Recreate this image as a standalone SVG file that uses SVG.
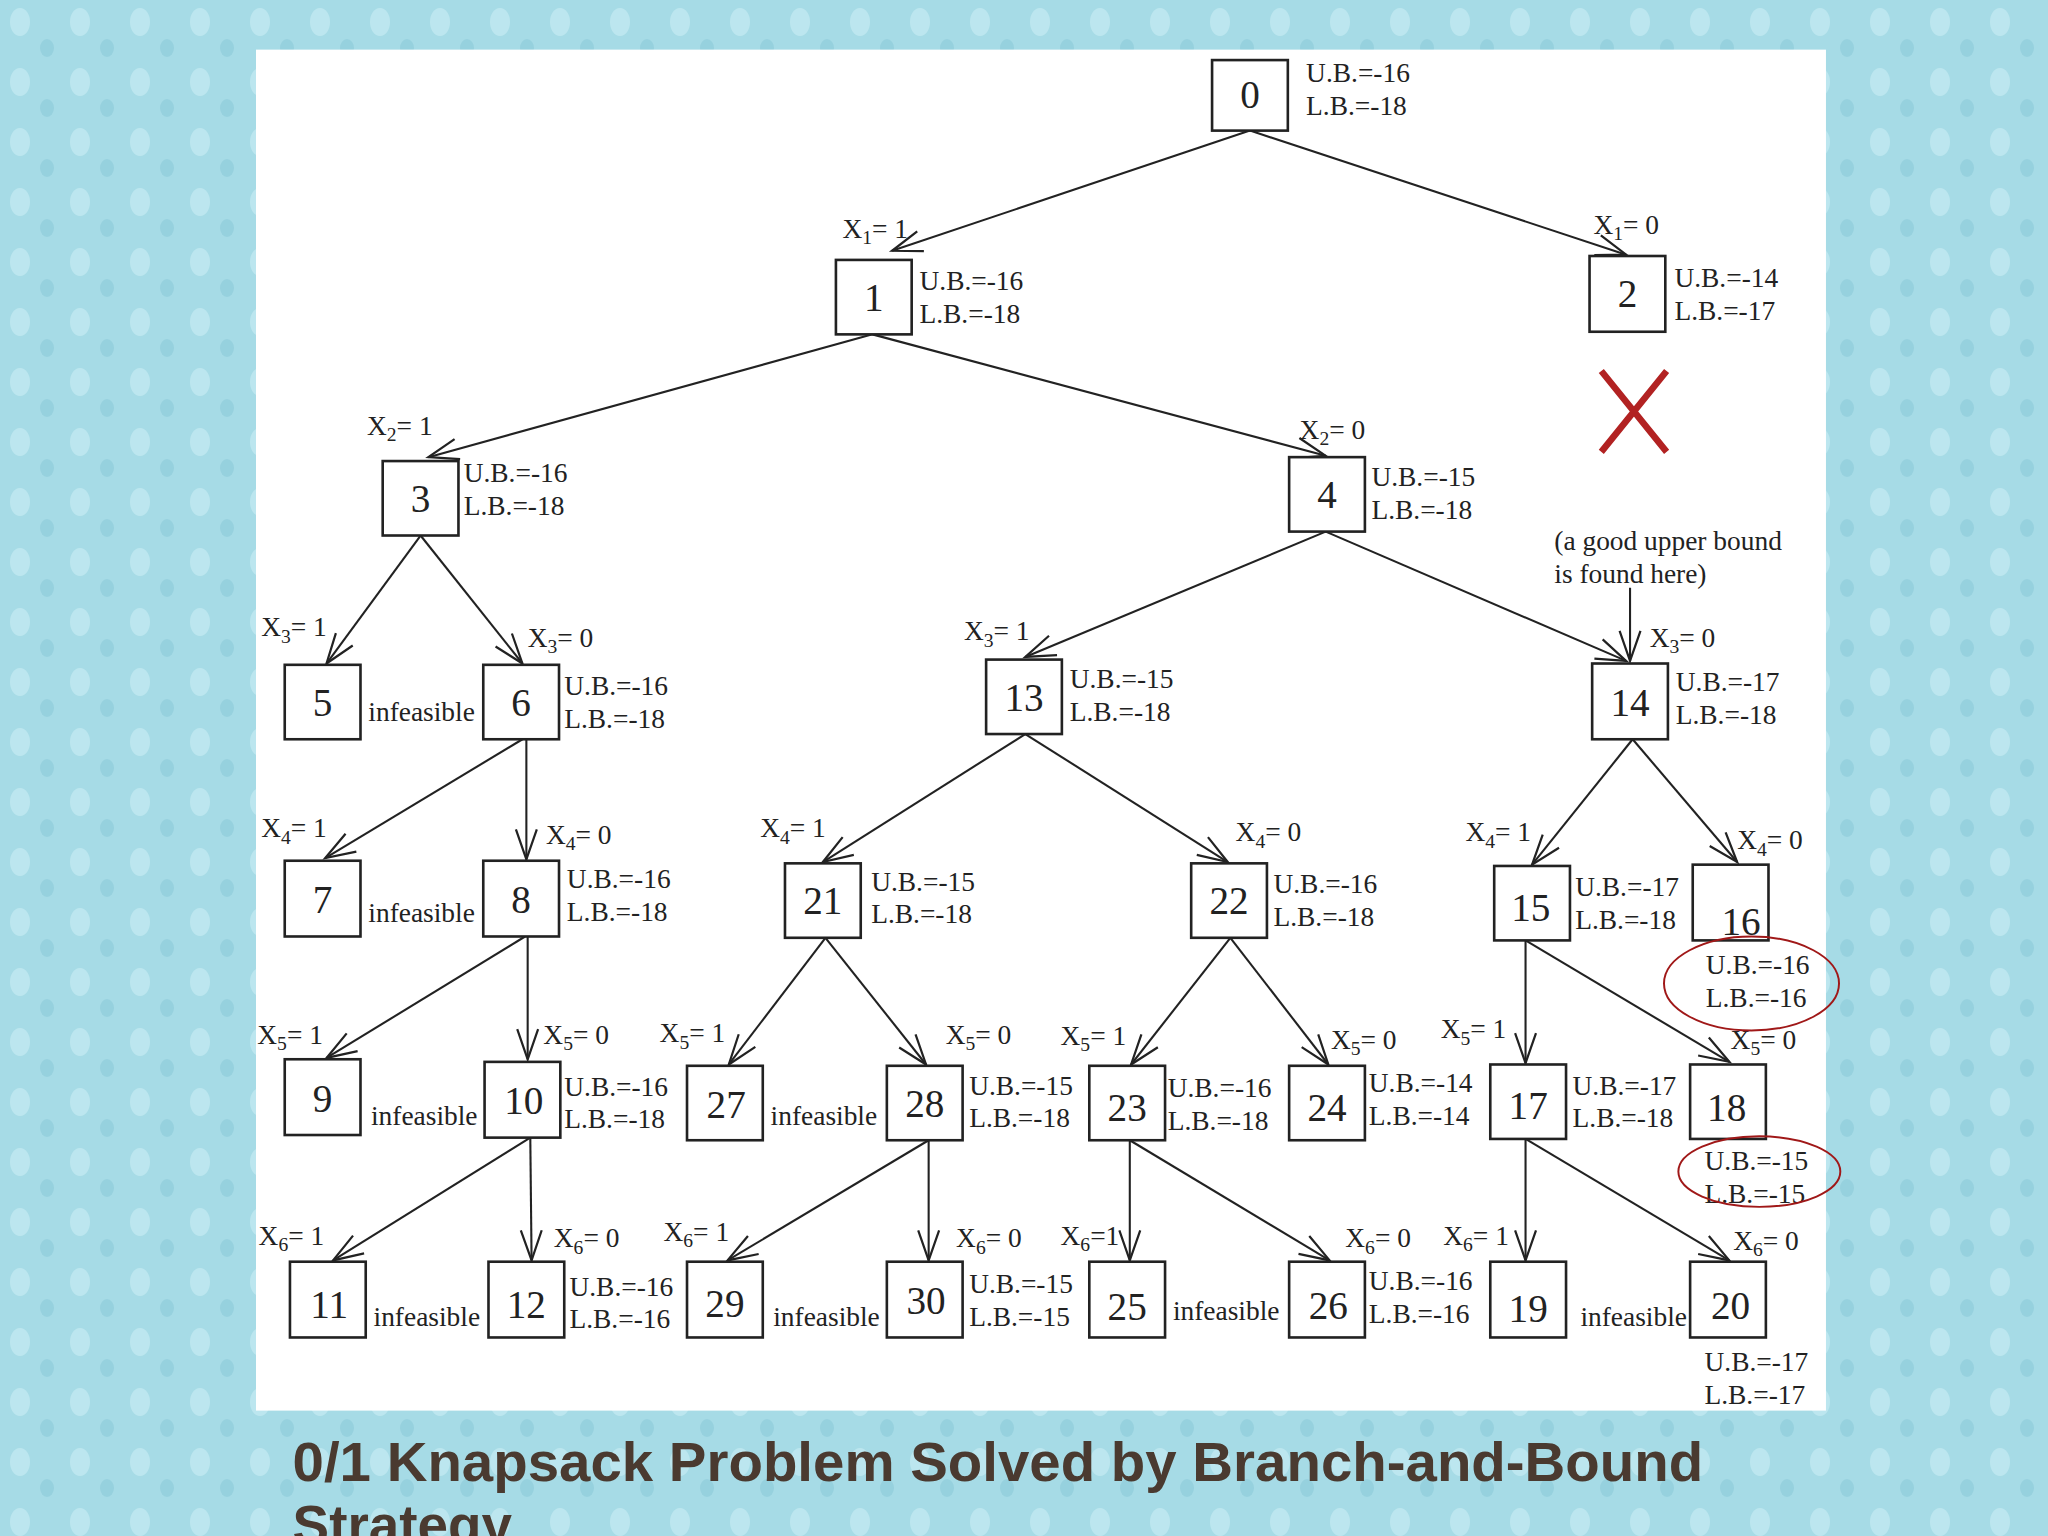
<svg xmlns="http://www.w3.org/2000/svg" width="2048" height="1536" viewBox="0 0 2048 1536">
<defs>
<style>
text{font-family:"Liberation Serif","DejaVu Serif",serif;fill:#222}
.b{fill:#fff;stroke:#222;stroke-width:2}
.n{font-size:30px;text-anchor:middle}
.l{font-size:21px}
.e{font-size:21px}
.c line{stroke:#222;stroke-width:1.6;marker-end:url(#a)}
.t{font-family:"Liberation Sans",Arial,sans-serif;font-weight:bold;font-size:42px;fill:#4a3a30}
</style>
<marker id="a" markerWidth="30" markerHeight="30" refX="25" refY="15" orient="auto" markerUnits="userSpaceOnUse"><path d="M2,7 L25,15 L2,23" fill="none" stroke="#222" stroke-width="1.7"/></marker>
<pattern id="bg" width="60" height="60" patternUnits="userSpaceOnUse"><rect width="60" height="60" fill="#a6dbe6"/><ellipse cx="20" cy="22" rx="10" ry="14" fill="#c6ecf3" opacity="0.7"/><ellipse cx="47" cy="48" rx="7" ry="9" fill="#8ccad8" opacity="0.6"/></pattern>
</defs>
<rect width="2048" height="1536" fill="url(#bg)"/>
<g transform="scale(1.30612)">
<rect x="196" y="38" width="1202" height="1042" fill="#fff"/>
<g id="connectors" class="c">
<line x1="957" y1="100" x2="683" y2="192"/><line x1="957" y1="100" x2="1245" y2="195"/>
<line x1="668" y1="256" x2="328" y2="350"/><line x1="668" y1="256" x2="1015" y2="349"/>
<line x1="322" y1="410" x2="250" y2="508"/><line x1="322" y1="410" x2="400" y2="508"/>
<line x1="1015" y1="407" x2="785" y2="503"/><line x1="1015" y1="407" x2="1245" y2="506"/>
<line x1="400" y1="566" x2="249" y2="657"/><line x1="403" y1="566" x2="403" y2="658"/>
<line x1="785" y1="562" x2="630" y2="660"/><line x1="785" y1="562" x2="940" y2="660"/>
<line x1="1250" y1="566" x2="1173" y2="662"/><line x1="1250" y1="566" x2="1330" y2="660"/>
<line x1="402" y1="717" x2="250" y2="810"/><line x1="404" y1="717" x2="404" y2="811"/>
<line x1="632" y1="718" x2="558" y2="815"/><line x1="632" y1="718" x2="709" y2="815"/>
<line x1="942" y1="718" x2="866" y2="815"/><line x1="942" y1="718" x2="1017" y2="815"/>
<line x1="1168" y1="720" x2="1168" y2="814"/><line x1="1168" y1="720" x2="1324" y2="813"/>
<line x1="406" y1="871" x2="255" y2="965"/><line x1="406" y1="871" x2="407" y2="965"/>
<line x1="711" y1="873" x2="557" y2="965"/><line x1="711" y1="873" x2="711" y2="965"/>
<line x1="865" y1="873" x2="865" y2="965"/><line x1="865" y1="873" x2="1018" y2="965"/>
<line x1="1168" y1="872" x2="1168" y2="965"/><line x1="1168" y1="872" x2="1324" y2="965"/>
<line x1="1248" y1="450" x2="1248" y2="506"/>
</g>
<g class="e">
<text x="645" y="182">X<tspan font-size="15" dy="5">1</tspan><tspan dy="-5">= 1</tspan></text>
<text x="1220" y="179">X<tspan font-size="15" dy="5">1</tspan><tspan dy="-5">= 0</tspan></text>
<text x="281" y="333">X<tspan font-size="15" dy="5">2</tspan><tspan dy="-5">= 1</tspan></text>
<text x="995" y="336">X<tspan font-size="15" dy="5">2</tspan><tspan dy="-5">= 0</tspan></text>
<text x="200" y="487">X<tspan font-size="15" dy="5">3</tspan><tspan dy="-5">= 1</tspan></text>
<text x="404" y="495">X<tspan font-size="15" dy="5">3</tspan><tspan dy="-5">= 0</tspan></text>
<text x="738" y="490">X<tspan font-size="15" dy="5">3</tspan><tspan dy="-5">= 1</tspan></text>
<text x="1263" y="495">X<tspan font-size="15" dy="5">3</tspan><tspan dy="-5">= 0</tspan></text>
<text x="200" y="641">X<tspan font-size="15" dy="5">4</tspan><tspan dy="-5">= 1</tspan></text>
<text x="418" y="646">X<tspan font-size="15" dy="5">4</tspan><tspan dy="-5">= 0</tspan></text>
<text x="582" y="641">X<tspan font-size="15" dy="5">4</tspan><tspan dy="-5">= 1</tspan></text>
<text x="946" y="644">X<tspan font-size="15" dy="5">4</tspan><tspan dy="-5">= 0</tspan></text>
<text x="1122" y="644">X<tspan font-size="15" dy="5">4</tspan><tspan dy="-5">= 1</tspan></text>
<text x="1330" y="650">X<tspan font-size="15" dy="5">4</tspan><tspan dy="-5">= 0</tspan></text>
<text x="197" y="799">X<tspan font-size="15" dy="5">5</tspan><tspan dy="-5">= 1</tspan></text>
<text x="416" y="799">X<tspan font-size="15" dy="5">5</tspan><tspan dy="-5">= 0</tspan></text>
<text x="505" y="798">X<tspan font-size="15" dy="5">5</tspan><tspan dy="-5">= 1</tspan></text>
<text x="724" y="799">X<tspan font-size="15" dy="5">5</tspan><tspan dy="-5">= 0</tspan></text>
<text x="812" y="800">X<tspan font-size="15" dy="5">5</tspan><tspan dy="-5">= 1</tspan></text>
<text x="1019" y="803">X<tspan font-size="15" dy="5">5</tspan><tspan dy="-5">= 0</tspan></text>
<text x="1103" y="795">X<tspan font-size="15" dy="5">5</tspan><tspan dy="-5">= 1</tspan></text>
<text x="1325" y="803">X<tspan font-size="15" dy="5">5</tspan><tspan dy="-5">= 0</tspan></text>
<text x="198" y="953">X<tspan font-size="15" dy="5">6</tspan><tspan dy="-5">= 1</tspan></text>
<text x="424" y="955">X<tspan font-size="15" dy="5">6</tspan><tspan dy="-5">= 0</tspan></text>
<text x="508" y="950">X<tspan font-size="15" dy="5">6</tspan><tspan dy="-5">= 1</tspan></text>
<text x="732" y="955">X<tspan font-size="15" dy="5">6</tspan><tspan dy="-5">= 0</tspan></text>
<text x="812" y="953">X<tspan font-size="15" dy="5">6</tspan><tspan dy="-5">=1</tspan></text>
<text x="1030" y="955">X<tspan font-size="15" dy="5">6</tspan><tspan dy="-5">= 0</tspan></text>
<text x="1105" y="953">X<tspan font-size="15" dy="5">6</tspan><tspan dy="-5">= 1</tspan></text>
<text x="1327" y="957">X<tspan font-size="15" dy="5">6</tspan><tspan dy="-5">= 0</tspan></text>
</g>
<g id="n0"><rect class="b" x="928" y="46" width="58" height="54"/><text class="n" x="957" y="83">0</text><text class="l" x="1000" y="63">U.B.=-16</text><text class="l" x="1000" y="88">L.B.=-18</text></g>
<g id="n1"><rect class="b" x="640" y="199" width="58" height="57"/><text class="n" x="669" y="238">1</text><text class="l" x="704" y="222">U.B.=-16</text><text class="l" x="704" y="247">L.B.=-18</text></g>
<g id="n2"><rect class="b" x="1217" y="196" width="58" height="58"/><text class="n" x="1246" y="235">2</text><text class="l" x="1282" y="220">U.B.=-14</text><text class="l" x="1282" y="245">L.B.=-17</text></g>
<g id="x"><path d="M1226,284 L1276,346 M1276,284 L1226,346" stroke="#b22222" stroke-width="5" fill="none"/></g>
<g id="n3"><rect class="b" x="293" y="353" width="58" height="57"/><text class="n" x="322" y="392">3</text><text class="l" x="355" y="369">U.B.=-16</text><text class="l" x="355" y="394">L.B.=-18</text></g>
<g id="n4"><rect class="b" x="987" y="350" width="58" height="57"/><text class="n" x="1016" y="389">4</text><text class="l" x="1050" y="372">U.B.=-15</text><text class="l" x="1050" y="397">L.B.=-18</text></g>
<g id="note"><text class="l" x="1190" y="421">(a good upper bound</text><text class="l" x="1190" y="446">is found here)</text></g>
<g id="n5"><rect class="b" x="218" y="509" width="58" height="57"/><text class="n" x="247" y="548">5</text><text class="l" x="282" y="552">infeasible</text></g>
<g id="n6"><rect class="b" x="370" y="509" width="58" height="57"/><text class="n" x="399" y="548">6</text><text class="l" x="432" y="532">U.B.=-16</text><text class="l" x="432" y="557">L.B.=-18</text></g>
<g id="n13"><rect class="b" x="755" y="505" width="58" height="57"/><text class="n" x="784" y="544">13</text><text class="l" x="819" y="527">U.B.=-15</text><text class="l" x="819" y="552">L.B.=-18</text></g>
<g id="n14"><rect class="b" x="1219" y="508" width="58" height="58"/><text class="n" x="1248" y="548">14</text><text class="l" x="1283" y="529">U.B.=-17</text><text class="l" x="1283" y="554">L.B.=-18</text></g>
<g id="n7"><rect class="b" x="218" y="659" width="58" height="58"/><text class="n" x="247" y="699">7</text><text class="l" x="282" y="706">infeasible</text></g>
<g id="n8"><rect class="b" x="370" y="659" width="58" height="58"/><text class="n" x="399" y="699">8</text><text class="l" x="434" y="680">U.B.=-16</text><text class="l" x="434" y="705">L.B.=-18</text></g>
<g id="n21"><rect class="b" x="601" y="661" width="58" height="57"/><text class="n" x="630" y="700">21</text><text class="l" x="667" y="682">U.B.=-15</text><text class="l" x="667" y="707">L.B.=-18</text></g>
<g id="n22"><rect class="b" x="912" y="661" width="58" height="57"/><text class="n" x="941" y="700">22</text><text class="l" x="975" y="684">U.B.=-16</text><text class="l" x="975" y="709">L.B.=-18</text></g>
<g id="n15"><rect class="b" x="1144" y="663" width="58" height="57"/><text class="n" x="1172" y="705">15</text><text class="l" x="1206" y="686">U.B.=-17</text><text class="l" x="1206" y="711">L.B.=-18</text></g>
<g id="n16"><rect class="b" x="1296" y="662" width="58" height="58"/><text class="n" x="1333" y="716">16</text><text class="l" x="1306" y="746">U.B.=-16</text><text class="l" x="1306" y="771">L.B.=-16</text><ellipse cx="1341" cy="753" rx="67" ry="36" fill="none" stroke="#a01818" stroke-width="1.5"/></g>
<g id="n9"><rect class="b" x="218" y="811" width="58" height="58"/><text class="n" x="247" y="851">9</text><text class="l" x="284" y="861">infeasible</text></g>
<g id="n10"><rect class="b" x="371" y="813" width="58" height="58"/><text class="n" x="401" y="853">10</text><text class="l" x="432" y="839">U.B.=-16</text><text class="l" x="432" y="864">L.B.=-18</text></g>
<g id="n27"><rect class="b" x="526" y="816" width="58" height="57"/><text class="n" x="556" y="856">27</text><text class="l" x="590" y="861">infeasible</text></g>
<g id="n28"><rect class="b" x="679" y="816" width="58" height="57"/><text class="n" x="708" y="855">28</text><text class="l" x="742" y="838">U.B.=-15</text><text class="l" x="742" y="863">L.B.=-18</text></g>
<g id="n23"><rect class="b" x="834" y="816" width="58" height="57"/><text class="n" x="863" y="858">23</text><text class="l" x="894" y="840">U.B.=-16</text><text class="l" x="894" y="865">L.B.=-18</text></g>
<g id="n24"><rect class="b" x="987" y="816" width="58" height="57"/><text class="n" x="1016" y="858">24</text><text class="l" x="1048" y="836">U.B.=-14</text><text class="l" x="1048" y="861">L.B.=-14</text></g>
<g id="n17"><rect class="b" x="1141" y="815" width="58" height="57"/><text class="n" x="1170" y="857">17</text><text class="l" x="1204" y="838">U.B.=-17</text><text class="l" x="1204" y="863">L.B.=-18</text></g>
<g id="n18"><rect class="b" x="1294" y="815" width="58" height="57"/><text class="n" x="1322" y="858">18</text><text class="l" x="1305" y="896">U.B.=-15</text><text class="l" x="1305" y="921">L.B.=-15</text><ellipse cx="1347" cy="897" rx="62" ry="27" fill="none" stroke="#a01818" stroke-width="1.5"/></g>
<g id="n11"><rect class="b" x="222" y="966" width="58" height="58"/><text class="n" x="252" y="1009">11</text><text class="l" x="286" y="1015">infeasible</text></g>
<g id="n12"><rect class="b" x="374" y="966" width="58" height="58"/><text class="n" x="403" y="1009">12</text><text class="l" x="436" y="992">U.B.=-16</text><text class="l" x="436" y="1017">L.B.=-16</text></g>
<g id="n29"><rect class="b" x="526" y="966" width="58" height="58"/><text class="n" x="555" y="1008">29</text><text class="l" x="592" y="1015">infeasible</text></g>
<g id="n30"><rect class="b" x="679" y="966" width="58" height="58"/><text class="n" x="709" y="1006">30</text><text class="l" x="742" y="990">U.B.=-15</text><text class="l" x="742" y="1015">L.B.=-15</text></g>
<g id="n25"><rect class="b" x="834" y="966" width="58" height="58"/><text class="n" x="863" y="1011">25</text><text class="l" x="898" y="1011">infeasible</text></g>
<g id="n26"><rect class="b" x="987" y="966" width="58" height="58"/><text class="n" x="1017" y="1010">26</text><text class="l" x="1048" y="988">U.B.=-16</text><text class="l" x="1048" y="1013">L.B.=-16</text></g>
<g id="n19"><rect class="b" x="1141" y="966" width="58" height="58"/><text class="n" x="1170" y="1012">19</text><text class="l" x="1210" y="1015">infeasible</text></g>
<g id="n20"><rect class="b" x="1294" y="966" width="58" height="58"/><text class="n" x="1325" y="1010">20</text><text class="l" x="1305" y="1050">U.B.=-17</text><text class="l" x="1305" y="1075">L.B.=-17</text></g>
<text class="t" x="224" y="1134" textLength="1080" lengthAdjust="spacingAndGlyphs">0/1 Knapsack Problem Solved by Branch-and-Bound</text>
<text class="t" x="224" y="1182">Strategy</text>
</g>
</svg>
